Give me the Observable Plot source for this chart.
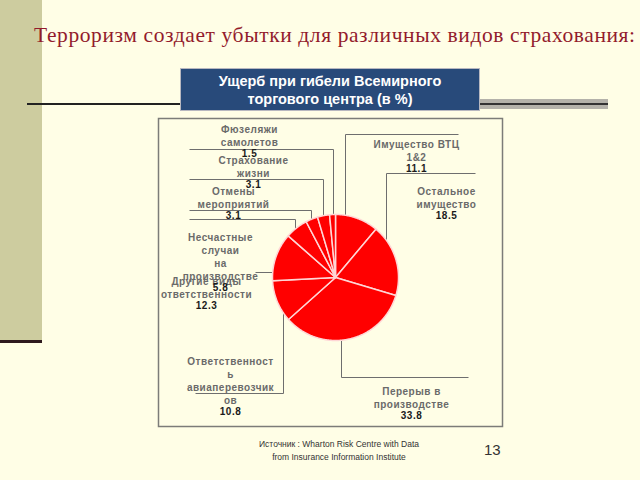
<!DOCTYPE html>
<html>
<head>
<meta charset="utf-8">
<script src="https://cdn.jsdelivr.net/npm/d3@7"></script>
<script src="https://cdn.jsdelivr.net/npm/@observablehq/plot@0.6"></script>
<style>
  html, body { margin: 0; padding: 0; }
  body { width: 640px; height: 480px; background: #FFFEE6; position: relative; overflow: hidden; font-family: "Liberation Sans", Arial, sans-serif; }
  .abs { position: absolute; }
  #strip { left: 0; top: 0; width: 42px; height: 340px; background: #CDCC9F; }
  #stripLine { left: 0; top: 340px; width: 42px; height: 3px; background: #2E1A1E; }
  #title { left: 34px; top: 23px; white-space: nowrap; font-family: "Liberation Serif", "DejaVu Serif", serif; font-size: 21.5px; letter-spacing: 0.6px; color: #931B2C; }
  #lineL { left: 27px; top: 103px; width: 155px; height: 2px; background: #222; }
  #bandR { left: 480px; top: 99px; width: 128px; height: 10px; background: #B4B2AA; }
  #lineR { left: 480px; top: 103px; width: 128px; height: 2px; background: #333; }
  #box { left: 180px; top: 68px; width: 300px; height: 43px; background: #284A7A; border: 1px solid #B8B8C0; color: #fff; font-weight: bold; font-size: 14.5px; text-align: center; line-height: 18px; padding-top: 3px; box-sizing: border-box; }
  #chart { left: 157px; top: 117px; }
  #chart svg text { letter-spacing: 0.5px; }
  #caption { left: 206px; top: 438px; width: 266px; text-align: center; font-size: 8.5px; line-height: 13px; color: #333; }
  #page { left: 484px; top: 441px; font-size: 15px; color: #333; }
</style>
</head>
<body>
<div class="abs" id="strip"></div>
<div class="abs" id="stripLine"></div>
<div class="abs" id="title">Терроризм создает убытки для различных видов страхования:</div>
<div class="abs" id="lineL"></div>
<div class="abs" id="bandR"></div>
<div class="abs" id="lineR"></div>
<div class="abs" id="box">Ущерб при гибели Всемирного<br>торгового центра (в %)</div>
<div class="abs" id="chart"></div>
<div class="abs" id="caption">Источник : Wharton Risk Centre with Data<br>from Insurance Information Institute</div>
<div class="abs" id="page">13</div>
<script>
// ---- data ----
const categories = [
  "Имущество ВТЦ\n1&2",
  "Остальное\nимущество",
  "Перерыв в\nпроизводстве",
  "Ответственност\nь\nавиаперевозчик\nов",
  "Другие виды\nответственности",
  "Несчастные\nслучаи\nна\nпроизводстве",
  "Отмены\nмероприятий",
  "Страхование\nжизни",
  "Фюзеляжи\nсамолетов"
];
const values = [11.1, 18.5, 33.8, 10.8, 12.3, 5.8, 3.1, 3.1, 1.5];

// ---- layout (label placement, offsets in px from pie centre; y up) ----
const labelX = [81, 111, 76, -105, -129, -115, -102, -82, -86];
const labelY = [134, 87, -113, -83, -3, 41, 87, 118, 149];
const leaderX = [10, 51, 6, -52, null, -40, -24, -12, -2];   // x of vertical leader (null = horizontal)
const leaderY = [143, 104, -100, -116, 5, 58, 67, 98, 128];  // y of horizontal segment
const leaderEnd = [123, 140, 133, -140, -80, -146, -146, -146, -146];

const R = 63;          // pie radius (px)
const lineH = 13;      // label line height (px)
const fontSize = 10;

const rows = categories.map((c, i) => ({name: c, value: values[i]}));
const arcs = d3.pie().sort(null).value(d => d.value)(rows);

// slice polygons
const slicePts = [];
arcs.forEach(a => {
  const name = a.data.name;
  slicePts.push({name, x: 0, y: 0});
  const n = Math.max(2, Math.ceil((a.endAngle - a.startAngle) / (Math.PI / 360)));
  for (let k = 0; k <= n; k++) {
    const t = a.startAngle + (a.endAngle - a.startAngle) * k / n;
    slicePts.push({name, x: R * Math.sin(t), y: R * Math.cos(t)});
  }
  slicePts.push({name, x: 0, y: 0});
});

// leader lines
const leaderPts = [];
categories.forEach((c, i) => {
  const ly = leaderY[i];
  if (leaderX[i] === null) {
    const sx = -Math.sqrt(R * R - ly * ly);
    leaderPts.push({name: c, x: sx, y: ly}, {name: c, x: leaderEnd[i], y: ly});
  } else {
    const vx = leaderX[i];
    const sy = Math.sign(ly) * Math.sqrt(R * R - vx * vx);
    leaderPts.push({name: c, x: vx, y: sy}, {name: c, x: vx, y: ly}, {name: c, x: leaderEnd[i], y: ly});
  }
});

// label texts
const nameLabels = categories.map((c, i) => ({text: c, x: labelX[i], y: labelY[i] + 5}));
const valueLabels = categories.map((c, i) => {
  const nl = c.split("\n").length;
  return {text: values[i].toFixed(1), x: labelX[i], y: labelY[i] - (nl - 1) * lineH - 12};
});

const font = "'Liberation Sans', Arial, sans-serif";

const chart = Plot.plot({
  width: 346,
  height: 310,
  margin: 1,
  x: {domain: [-177, 167], axis: null},
  y: {domain: [-149, 159], axis: null},
  style: {background: "transparent", overflow: "visible", fontFamily: font},
  marks: [
    Plot.frame({stroke: "#7C7C78", strokeWidth: 1.5}),
    Plot.line(leaderPts, {x: "x", y: "y", z: "name", stroke: "#6E6E6E", strokeWidth: 1, strokeLinecap: "butt", strokeLinejoin: "miter"}),
    Plot.line(slicePts, {x: "x", y: "y", z: "name", fill: "#FF0000", stroke: "#FFD6D6", strokeWidth: 1.5, strokeLinejoin: "round"}),
    Plot.text(nameLabels, {x: "x", y: "y", text: "text", lineAnchor: "top", lineHeight: lineH / fontSize, fontSize, fontWeight: "bold", fill: "#6A6A6A"}),
    Plot.text(valueLabels, {x: "x", y: "y", text: "text", lineAnchor: "middle", fontSize, fontWeight: "bold", fill: "#1A1A1A"})
  ]
});
document.getElementById("chart").appendChild(chart);
</script>
</body>
</html>
